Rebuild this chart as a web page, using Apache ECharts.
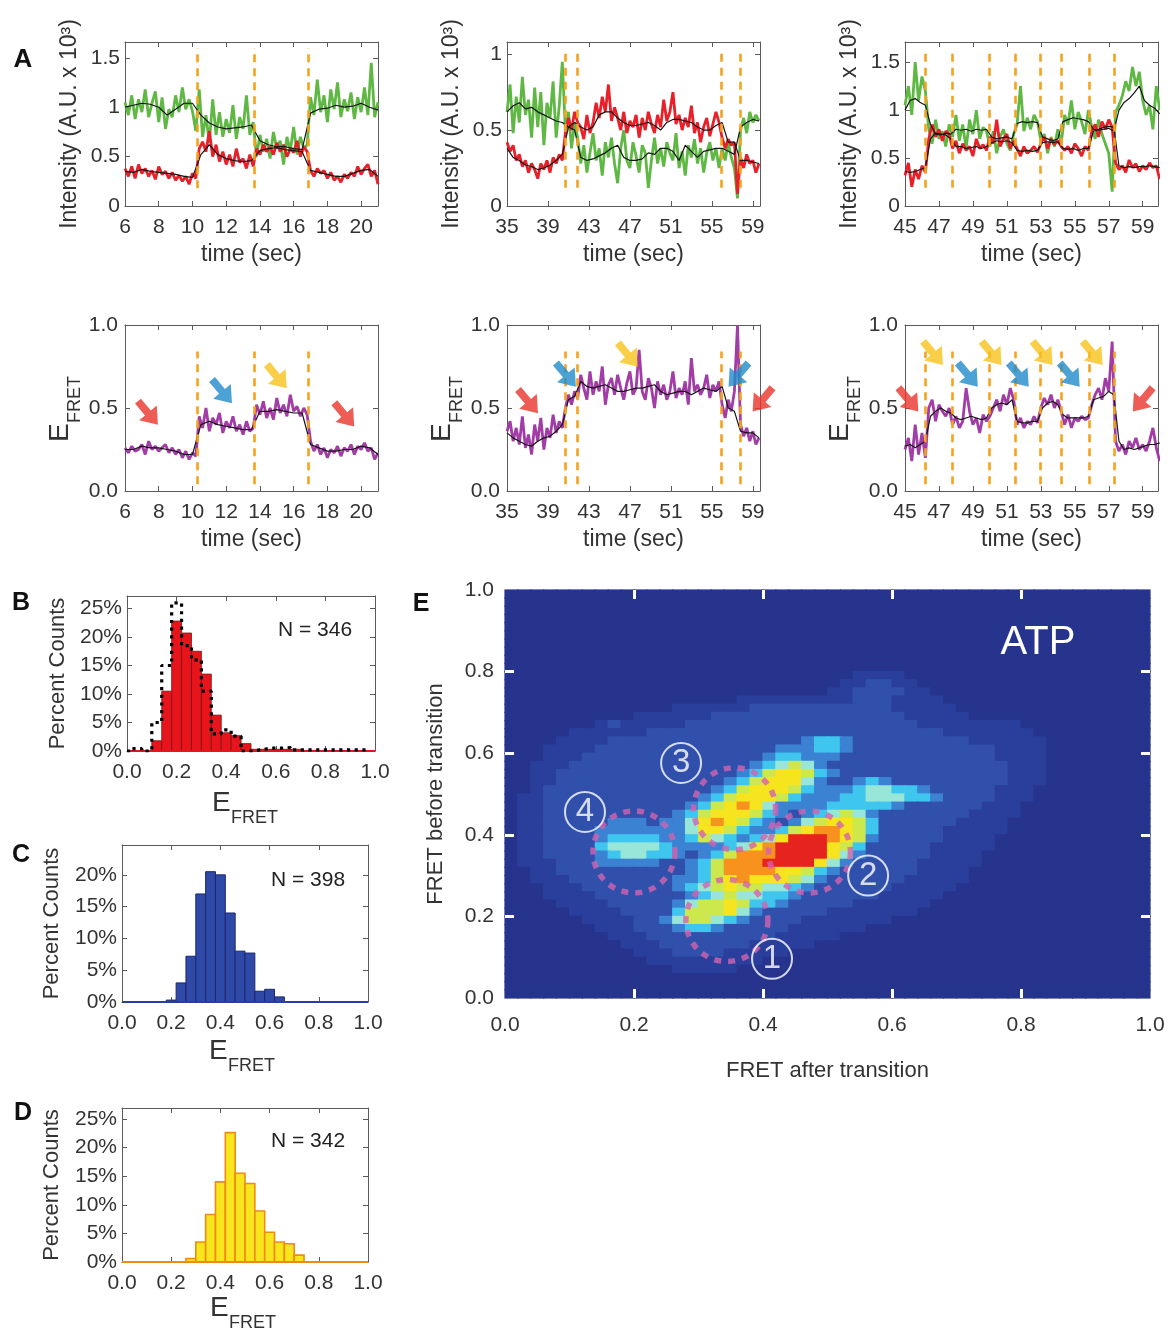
<!DOCTYPE html>
<html><head><meta charset="utf-8">
<script src="https://cdn.jsdelivr.net/npm/echarts@6/dist/echarts.min.js"></script>
<style>html,body{margin:0;padding:0;background:#fff}#c{width:1172px;height:1334px}</style>
</head><body><div id="c"></div>
<script>
const FONT = '"Liberation Sans", Arial, Helvetica, sans-serif';

// ================= DATA =================
// Panel A – trace 1 (intensities and FRET in units of 0.01)
const TL_T0 = 6, TL_DT = 0.2, TL_SDT = 0.5;
const TL_DONOR = [105,92,112,88,108,95,118,90,104,116,85,110,78,98,90,112,95,120,98,108,96,76,118,70,92,64,108,72,95,70,88,74,102,68,90,78,112,72,85,50,72,55,68,48,75,58,66,42,70,56,80,52,70,58,62,110,92,128,95,112,85,118,98,125,90,108,96,115,88,110,95,120,92,145,90,105];
const TL_ACCEPTOR = [38,30,40,28,42,33,38,30,36,27,40,32,35,28,34,26,31,25,30,22,33,28,58,65,55,76,50,62,45,55,42,52,40,58,44,48,38,52,40,58,52,62,55,60,52,64,55,62,50,58,54,66,50,60,55,36,30,38,33,36,28,34,26,30,24,32,28,34,30,40,32,38,42,30,36,22];
const TL_DONOR_SMOOTH = [100,102,104,103,100,92,98,104,104,92,84,80,78,79,80,82,66,62,60,60,58,57,94,98,99,102,100,101,104,100,97];
const TL_ACCEPTOR_SMOOTH = [35,34,37,35,34,33,32,30,29,52,62,52,48,46,45,46,56,58,59,57,56,55,36,34,32,30,30,33,36,37,30];
const TL_FRET = [26,23,27,24,25,28,22,30,25,27,24,26,28,23,26,22,25,20,24,19,23,21,45,38,50,36,44,40,47,35,42,38,45,36,40,34,42,36,38,52,46,54,44,50,43,56,47,52,45,58,48,51,45,50,46,30,24,28,22,26,20,25,23,27,21,26,24,28,22,27,25,29,24,26,19,23];
const TL_FRET_SMOOTH = [25,25,27,26,26,25,24,22,22,40,42,40,39,38,37,37,48,48,49,48,47,47,28,26,24,24,25,25,27,26,22];
const TL_TRANSITIONS = [10.3, 13.65, 16.85];
const TL_ARROWS = [[7.36,0.47,'r','dr'],[11.75,0.60,'b','dr'],[15.0,0.69,'y','dr'],[19.0,0.46,'r','dr']];

// Panel A – trace 2
const TM_T0 = 35, TM_DT = 0.3, TM_SDT = 0.6;
const TM_DONOR = [62,80,48,72,55,85,60,70,45,78,52,75,40,68,58,82,45,66,95,50,62,38,55,45,28,40,22,35,48,30,38,20,42,32,45,28,15,38,50,30,25,42,33,22,40,35,12,30,45,28,38,26,42,35,30,48,25,36,20,40,32,44,28,38,22,35,42,30,38,25,38,30,42,32,25,5,50,58,48,62,55,60,56];
const TM_ACCEPTOR = [42,36,40,30,34,26,30,22,28,24,18,28,24,30,22,32,28,34,30,48,58,50,62,55,52,44,60,48,55,68,58,72,62,80,56,65,58,50,62,48,56,52,60,45,58,50,62,54,48,60,52,70,56,62,75,54,60,50,58,52,66,48,55,42,52,58,46,54,62,55,45,38,44,40,42,8,32,25,34,28,30,22,28];
const TM_DONOR_SMOOTH = [62,66,68,64,65,62,60,58,56,55,52,50,32,30,31,33,35,38,40,32,30,30,31,35,34,38,38,36,30,40,36,32,36,37,38,38,36,34,52,55,57,56];
const TM_ACCEPTOR_SMOOTH = [38,32,30,27,26,24,25,27,30,34,52,55,52,50,52,60,62,62,58,55,53,53,54,55,53,50,55,57,57,56,55,52,50,50,53,55,42,42,30,30,29,28];
const TM_FRET = [36,42,30,38,28,45,26,34,22,40,30,44,25,38,32,46,35,42,38,50,58,52,60,56,70,62,55,72,58,66,60,75,52,64,68,58,70,62,55,65,72,58,62,85,60,55,68,62,50,66,58,64,55,60,72,56,62,58,66,52,80,60,64,58,62,70,56,64,60,66,52,44,55,48,60,100,40,33,38,30,36,28,32];
const TM_FRET_SMOOTH = [35,32,30,28,27,30,32,33,36,40,55,57,66,63,62,63,64,62,60,60,61,62,62,63,64,60,58,59,60,60,58,60,62,61,60,63,50,48,36,35,35,32];
const TM_TRANSITIONS = [40.66, 41.86, 55.94, 57.73];
const TM_ARROWS = [[37.05,0.54,'r','dr'],[40.75,0.70,'b','dr'],[46.8,0.82,'y','dr'],[57.6,0.70,'b','dl'],[59.95,0.55,'r','dl']];

// Panel A – trace 3
const TR_T0 = 45, TR_DT = 0.2, TR_SDT = 0.3;
const TR_DONOR = [105,125,95,150,110,135,120,80,65,90,70,78,62,85,72,95,68,85,60,90,75,100,70,82,78,62,78,55,72,80,65,58,75,85,125,78,92,80,95,88,68,75,55,72,62,80,65,95,85,110,80,98,88,75,100,82,70,90,75,65,55,15,98,105,115,130,120,145,125,140,110,95,105,80,125,100];
const TR_ACCEPTOR = [32,45,20,38,28,42,35,70,85,72,80,68,78,75,60,68,55,65,58,62,52,70,60,64,58,72,65,90,62,70,75,60,68,60,52,62,55,58,62,56,65,72,60,70,64,68,62,58,62,55,65,60,52,62,58,78,85,72,88,80,90,82,45,38,42,35,48,40,44,36,42,38,45,40,42,28];
const TR_DONOR_SMOOTH = [100,110,112,108,105,85,75,74,76,75,80,79,80,78,80,79,80,72,70,71,72,70,86,88,87,88,87,72,70,68,70,88,90,92,91,90,88,80,79,80,81,78,100,108,112,118,125,110,105,102,96];
const TR_ACCEPTOR_SMOOTH = [36,35,36,38,40,70,76,75,74,70,62,62,60,61,62,60,62,66,68,67,68,66,58,57,58,57,58,66,67,66,67,60,59,60,58,60,60,78,80,82,83,82,42,40,41,40,41,41,42,41,40];
const TR_FRET = [25,32,18,40,22,35,20,50,55,42,52,48,45,50,40,45,38,42,62,48,40,44,35,46,42,45,50,55,48,58,52,62,55,40,44,38,42,40,45,41,50,56,52,58,50,55,48,40,46,38,44,42,45,43,44,52,58,62,55,68,60,90,30,24,28,22,30,26,32,25,28,24,30,38,26,18];
const TR_FRET_SMOOTH = [27,28,26,28,30,45,48,50,48,47,44,43,44,45,44,43,44,50,52,53,52,55,42,41,41,42,42,50,53,54,52,46,44,44,44,44,45,55,56,57,60,58,30,25,26,25,26,27,28,28,29];
const TR_TRANSITIONS = [46.22, 47.78, 49.96, 51.51, 52.94, 54.22, 55.88, 57.32];
const TR_ARROWS = [[45.2,0.55,'r','dr'],[46.65,0.83,'y','dr'],[48.7,0.70,'b','dr'],[50.1,0.83,'y','dr'],[51.7,0.70,'b','dr'],[53.1,0.83,'y','dr'],[54.7,0.70,'b','dr'],[56.05,0.83,'y','dr'],[59.0,0.55,'r','dl']];

// Tick values
const TL_X_TICKS = [6,8,10,12,14,16,18,20];
const TM_X_TICKS = [35,39,43,47,51,55,59];
const TR_X_TICKS = [45,47,49,51,53,55,57,59];
const INT_TICKS_15 = [0,0.5,1,1.5];
const INT_TICKS_1 = [0,0.5,1];
const FRET_TICKS = [0,0.5,1];

// Histograms B, C, D (percent counts, bin centres, bin width 0.04)
const HIST_BIN_WIDTH = 0.04;
const HIST_BINS = [0.04,0.08,0.12,0.16,0.20,0.24,0.28,0.32,0.36,0.40,0.44,0.48,0.52,0.56,0.60,0.64,0.68,0.72,0.76,0.80,0.84,0.88,0.92,0.96];
const B_VALUES = [0,0,1.8,10.5,22.8,20.7,17.5,13.5,6.3,3.2,2.7,1.3,0.3,0.3,0.3,0.3,0.3,0,0,0,0,0,0,0];
const B_DOTTED = [0.4,0,5,15,26,18.5,16,10.5,3,3.7,2.6,0,0.2,0.5,0.5,0.6,0.2,0.2,0.2,0.2,0.2,0.2,0.2,0.2];
const C_VALUES = [0,0,0,0,0.3,3.0,7.2,17,20.5,20,14,8,7.7,1.7,2.0,0.8,0,0,0,0,0,0,0,0];
const D_VALUES = [0,0,0,0,0,0,0.6,3.5,8.3,14,22.6,15.5,13.7,8.9,5.2,3.5,3.2,1.2,0,0,0,0,0,0];
const B_N = 'N = 346', C_N = 'N = 398', D_N = 'N = 342';
const HIST_X_TICKS = [0,0.2,0.4,0.6,0.8,1.0];
const HIST_Y_TICKS_25 = [0,5,10,15,20,25];
const HIST_Y_TICKS_20 = [0,5,10,15,20];

// Panel E – transition density, 50 x 50 cells of 0.02 (rows: FRET-before 0.99 down to 0.01; columns: FRET-after 0.01 … 0.99)
const HEAT_CELL = 0.02;
const Z = '0000000000 0000000000 0000000000 0000000000 0000000000';
const HEAT_ROWS = [
 Z, Z, Z, Z, Z, Z, Z, Z, Z, Z,
 '0000000000 0000000000 0000000111 1000000000 0000000000',
 '0000000000 0000000000 0000001122 1100000000 0000000000',
 '0000000000 0000000000 0000011222 2110000000 0000000000',
 '0000000000 0000000011 1111111222 1111000000 0000000000',
 '0000000000 0001111112 2222222222 1111100000 0000000000',
 '0000000000 1111112222 2222222222 2111110000 0000000000',
 '0000000121 1111222222 2222222222 2211111111 0000000000',
 '0000011111 1222222222 2222222222 2222111111 1000000000',
 '0000111122 2222222222 2223443222 2222221111 1100000000',
 '0001111222 2222222222 2333443222 2222222211 1100000000',
 '0001112222 2222222222 3443332222 2222222211 1100000000',
 '0011122222 2222222223 4565322222 2222222221 1100000000',
 '0011222222 2222222234 6776432222 2222222221 1100000000',
 '0011222222 2222222346 7775322343 2222222221 1100000000',
 '0012222222 2222223467 7764333455 4432222211 1000000000',
 '0112222222 2222234677 7643334455 5443222211 1000000000',
 '0112222222 2222346787 5333344444 3222222111 0000000000',
 '0112222222 2223467776 4323456532 2222221111 0000000000',
 '0112222233 3233578764 3235677642 2222211110 0000000000',
 '0112222333 3333577643 3467887642 2222111110 0000000000',
 '0112222344 4433465434 5799987632 2222111100 0000000000',
 '0112222455 5543333457 8999976422 2221111100 0000000000',
 '0112222345 5443234688 8999975322 2221111000 0000000000',
 '0111222333 3322346888 9999753222 2211111000 0000000000',
 '0011222222 2222346888 8776432222 2211110000 0000000000',
 '0011122222 2223346787 7765322222 2111110000 0000000000',
 '0001112222 2223456766 5543222222 1111100000 0000000000',
 '0001111222 2222345655 4432222221 1111000000 0000000000',
 '0000111122 2223566764 4322222111 1110000000 0000000000',
 '0000011112 2224666753 2222211111 1100000000 0000000000',
 '0000001111 2235665432 2221111111 0000000000 0000000000',
 '0000000111 2223443222 2211111100 0000000000 0000000000',
 '0000000011 1222222222 2111110000 0000000000 0000000000',
 '0000000001 1122222221 1111000000 0000000000 0000000000',
 '0000000000 1112222111 1100000000 0000000000 0000000000',
 '0000000000 0111111111 0000000000 0000000000 0000000000',
 '0000000000 0001111100 0000000000 0000000000 0000000000',
 Z, Z, Z
];
const E_TICKS = [0.2,0.4,0.6,0.8];
const E_LABELS = [0,0.2,0.4,0.6,0.8,1.0];
const E_CIRCLES = [[0.344,0.19],[0.472,0.358],[0.356,0.464],[0.20,0.358]];
const E_NUMBERS = [[0.414,0.096,'1'],[0.563,0.30,'2'],[0.273,0.576,'3'],[0.124,0.456,'4']];

// ================= STYLE =================
const GREEN = '#5fb843', RED = '#e8202a', PURPLE = '#a23ca6', BLACK = '#151515', ORANGE = '#f6a21c';
const ARROW_COLORS = {r:'#e8342c', b:'#1f8bcb', y:'#f8c21a'};
const ARROW_ROT = {dr:-50, dl:-130};
const ARROW_PATH = 'path://M0,8 L15,8 L15,0 L30,12 L15,24 L15,16 L0,16 Z';
const HEAT_COLORS = ['#26348e','#2a3f9b','#3050ab','#3b82d2','#3ec6ef','#98e6d8','#cde84c','#f6e41e','#f6921d','#e6241f'];

// ================= BUILD =================
const grid = [], xAxis = [], yAxis = [], series = [], graphic = [];

function addPanel(p) {
  const gi = grid.length;
  grid.push({left:p.rect[0], top:p.rect[1], width:p.rect[2], height:p.rect[3], containLabel:false, outerBoundsMode:'none'});
  const frame = {show: p.frame !== false, onZero:false, lineStyle:{color:'#5a5a5a', width:1}};
  const tick = v => ({show:true, inside:true, length:p.tickLen || 5, customValues:v, lineStyle:{color:p.tickColor || '#5a5a5a', width:p.tickWidth || 1}});
  const lab = (v, fmt, margin) => ({show:true, customValues:v, formatter:fmt, color:'#333', fontSize:p.fs || 21, fontFamily:FONT, margin:margin, showMinLabel:true, showMaxLabel:true, hideOverlap:false});
  const base = {type:'value', gridIndex:gi, splitLine:{show:false}, z:p.axisZ || 0, silent:true};
  const nameStyle = {fontSize:p.nameFs || 23, color:'#333', fontFamily:FONT};
  const xi = xAxis.length, yi = yAxis.length;
  xAxis.push(Object.assign({}, base, {position:'bottom', min:p.x[0], max:p.x[1], axisLine:frame, axisTick:tick(p.xTicks),
    axisLabel:lab(p.xLabels || p.xTicks, p.xFmt, p.xMargin), name:p.xName || '', nameLocation:'middle', nameGap:p.xNameGap || 30, nameTextStyle:nameStyle}));
  xAxis.push(Object.assign({}, base, {position:'top', min:p.x[0], max:p.x[1], axisLine:frame, axisTick:tick(p.xTicks), axisLabel:{show:false}}));
  yAxis.push(Object.assign({}, base, {position:'left', min:p.y[0], max:p.y[1], axisLine:frame, axisTick:tick(p.yTicks),
    axisLabel:lab(p.yLabels || p.yTicks, p.yFmt, p.yMargin), name:p.yName || '', nameLocation:'middle', nameRotate:90, nameGap:p.yNameGap || 30, nameTextStyle:nameStyle}));
  yAxis.push(Object.assign({}, base, {position:'right', min:p.y[0], max:p.y[1], axisLine:frame, axisTick:tick(p.yTicks), axisLabel:{show:false}}));
  return {xi, yi};
}

const toPts = (t0, dt, vals) => vals.map((v, i) => [+(t0 + i * dt).toFixed(3), v / 100]);
function trace(ax, pts, color, width, z) {
  series.push({type:'line', xAxisIndex:ax.xi, yAxisIndex:ax.yi, data:pts, symbol:'none', showSymbol:false,
    lineStyle:{color, width}, z, silent:true, animation:false});
}
function transitions(ax, xs, y0, y1) {
  series.push({type:'line', xAxisIndex:ax.xi, yAxisIndex:ax.yi, data:[], z:6, silent:true,
    markLine:{silent:true, animation:false, symbol:['none','none'], label:{show:false},
      lineStyle:{color:ORANGE, width:2.6, type:[8,6]},
      data: xs.map(x => [{coord:[x, y0]}, {coord:[x, y1]}])}});
}
function arrows(ax, list) {
  series.push({type:'scatter', xAxisIndex:ax.xi, yAxisIndex:ax.yi, clip:false, silent:true, z:8,
    symbol:ARROW_PATH, symbolSize:[31, 23],
    data: list.map(a => ({value:[a[0], a[1]], symbolRotate:ARROW_ROT[a[3]], itemStyle:{color:ARROW_COLORS[a[2]]}}))});
}

const fmt1 = v => v.toFixed(1);
const pct = v => Math.round(v) + '%';

// ---- Panel A intensity rows ----
const topCommon = {fs:21, nameFs:23, xMargin:11, yMargin:5, xName:'time (sec)', xNameGap:37, yName:'Intensity (A.U. x 10³)', yNameGap:44};
const aTL = addPanel(Object.assign({rect:[125,42,253,164], x:[6,21], y:[0,1.66], xTicks:TL_X_TICKS, yTicks:INT_TICKS_15}, topCommon));
const aTM = addPanel(Object.assign({rect:[507,42,253,164], x:[35,59.7], y:[0,1.08], xTicks:TM_X_TICKS, yTicks:INT_TICKS_1}, topCommon));
const aTR = addPanel(Object.assign({rect:[905,42,253,164], x:[45,59.9], y:[0,1.71], xTicks:TR_X_TICKS, yTicks:INT_TICKS_15}, topCommon));

[[aTL, TL_T0, TL_DT, TL_SDT, TL_DONOR, TL_ACCEPTOR, TL_DONOR_SMOOTH, TL_ACCEPTOR_SMOOTH, TL_TRANSITIONS, 0.18, 1.6],
 [aTM, TM_T0, TM_DT, TM_SDT, TM_DONOR, TM_ACCEPTOR, TM_DONOR_SMOOTH, TM_ACCEPTOR_SMOOTH, TM_TRANSITIONS, 0.12, 1.03],
 [aTR, TR_T0, TR_DT, TR_SDT, TR_DONOR, TR_ACCEPTOR, TR_DONOR_SMOOTH, TR_ACCEPTOR_SMOOTH, TR_TRANSITIONS, 0.19, 1.65]
].forEach(r => {
  const [ax, t0, dt, sdt, d, a, ds, as, tr, y0, y1] = r;
  trace(ax, toPts(t0, dt, d), GREEN, 2.8, 2);
  trace(ax, toPts(t0, dt, a), RED, 2.8, 3);
  trace(ax, toPts(t0, sdt, ds), BLACK, 1.2, 4);
  trace(ax, toPts(t0, sdt, as), BLACK, 1.2, 4);
  transitions(ax, tr, y0, y1);
});

// ---- Panel A FRET rows ----
const botCommon = {fs:21, nameFs:23, xMargin:11, yMargin:7, xName:'time (sec)', xNameGap:37, yFmt:fmt1};
const fL = addPanel(Object.assign({rect:[125,325,253,166], x:[6,21], y:[0,1], xTicks:TL_X_TICKS, yTicks:FRET_TICKS}, botCommon));
const fM = addPanel(Object.assign({rect:[507,325,253,166], x:[35,59.7], y:[0,1], xTicks:TM_X_TICKS, yTicks:FRET_TICKS}, botCommon));
const fR = addPanel(Object.assign({rect:[905,325,253,166], x:[45,59.9], y:[0,1], xTicks:TR_X_TICKS, yTicks:FRET_TICKS}, botCommon));
[[fL, TL_T0, TL_DT, TL_SDT, TL_FRET, TL_FRET_SMOOTH, TL_TRANSITIONS, TL_ARROWS],
 [fM, TM_T0, TM_DT, TM_SDT, TM_FRET, TM_FRET_SMOOTH, TM_TRANSITIONS, TM_ARROWS],
 [fR, TR_T0, TR_DT, TR_SDT, TR_FRET, TR_FRET_SMOOTH, TR_TRANSITIONS, TR_ARROWS]
].forEach(r => {
  const [ax, t0, dt, sdt, f, fs, tr, ar] = r;
  trace(ax, toPts(t0, dt, f), PURPLE, 2.8, 2);
  trace(ax, toPts(t0, sdt, fs), BLACK, 1.2, 4);
  transitions(ax, tr, 0.04, 0.84);
  arrows(ax, ar);
});

// ---- Histograms ----
function histogram(ax, values, fill, stroke, lw, baseColor) {
  const hw = HIST_BIN_WIDTH / 2;
  series.push({type:'custom', xAxisIndex:ax.xi, yAxisIndex:ax.yi, silent:true, animation:false, clip:false, z:3,
    data: HIST_BINS.map((c, i) => [c - hw, c + hw, values[i]]),
    encode:{x:[0,1], y:2},
    renderItem: (params, api) => {
      const v = api.value(2);
      if (!v) return null;
      const p0 = api.coord([api.value(0), v]);
      const p1 = api.coord([api.value(1), 0]);
      return {type:'rect', shape:{x:p0[0], y:p0[1], width:p1[0]-p0[0], height:p1[1]-p0[1]}, style:{fill, stroke, lineWidth:lw}};
    }});
  series.push({type:'line', xAxisIndex:ax.xi, yAxisIndex:ax.yi, data:[[0,0],[1,0]], symbol:'none', silent:true, z:4,
    lineStyle:{color:baseColor, width:2.2}});
}
const histCommon = {fs:21, nameFs:22, xMargin:11, yMargin:5, xTicks:HIST_X_TICKS, xFmt:fmt1, yFmt:pct, yName:'Percent Counts'};
const hB = addPanel(Object.assign({rect:[127,596,248,155], x:[0,1], y:[0,27.2], yTicks:HIST_Y_TICKS_25, yNameGap:58}, histCommon));
const hC = addPanel(Object.assign({rect:[122,845,246,157], x:[0,1], y:[0,24.7], yTicks:HIST_Y_TICKS_20, yNameGap:59}, histCommon));
const hD = addPanel(Object.assign({rect:[122,1108,246,154], x:[0,1], y:[0,26.9], yTicks:HIST_Y_TICKS_25, yNameGap:59}, histCommon));
histogram(hB, B_VALUES, '#e8141b', '#7d1212', 0.8, '#e8141b');
histogram(hC, C_VALUES, '#2f49a6', '#1b2670', 1, '#2a3f9c');
histogram(hD, D_VALUES, '#f7e61e', '#f08a12', 1.6, '#f08a12');
// dotted outline in B
(function(){
  const hw = HIST_BIN_WIDTH / 2;
  const pts = [[0, 0]].concat(HIST_BINS.map((c, i) => [c - hw, B_DOTTED[i]]));
  pts.push([HIST_BINS[HIST_BINS.length - 1] + hw, B_DOTTED[B_DOTTED.length - 1]]);
  series.push({type:'line', xAxisIndex:hB.xi, yAxisIndex:hB.yi, data:pts, step:'end', symbol:'none', silent:true, z:5,
    lineStyle:{color:'#000', width:3.2, type:[3.2,4.5]}});
})();

// ---- Panel E heatmap (cells drawn through the category axes) ----
const eRect = [505,590,645,408];
const rows = HEAT_ROWS.map(r => r.replace(/ /g, ''));
const nCols = rows[0].length, nRows = rows.length;
const HEAT_X = Array.from({length:nCols}, (_, i) => (HEAT_CELL / 2 + i * HEAT_CELL).toFixed(2));
const HEAT_Y = Array.from({length:nRows}, (_, i) => (HEAT_CELL / 2 + i * HEAT_CELL).toFixed(2));
const hg = grid.length;
grid.push({left:eRect[0], top:eRect[1], width:eRect[2], height:eRect[3], containLabel:false, outerBoundsMode:'none'});
const hxI = xAxis.length; xAxis.push({type:'category', gridIndex:hg, data:HEAT_X, show:false, boundaryGap:true});
const hyI = yAxis.length; yAxis.push({type:'category', gridIndex:hg, data:HEAT_Y, show:false, boundaryGap:true});
const heatData = [];
rows.forEach((row, k) => {
  const yi = nRows - 1 - k;
  for (let c = 0; c < row.length; c++) heatData.push([c, yi, +row[c]]);
});
const heatIndex = series.length;
series.push({type:'custom', xAxisIndex:hxI, yAxisIndex:hyI, data:heatData, silent:true, z:1, animation:false,
  encode:{x:0, y:1},
  renderItem: (params, api) => {
    const c = api.coord([api.value(0), api.value(1)]);
    const s = api.size([1, 1]);
    return {type:'rect', shape:{x:c[0] - s[0] / 2 - 0.6, y:c[1] - s[1] / 2 - 0.6, width:s[0] + 1.2, height:s[1] + 1.2},
      style:{fill:api.visual('color')}};
  }});

const eAx = addPanel({rect:eRect, x:[0,1], y:[0,1], frame:false, tickColor:'#ffffff', tickWidth:3, tickLen:9, axisZ:5,
  xTicks:E_TICKS, xLabels:E_LABELS, yTicks:E_TICKS, yLabels:E_LABELS, xFmt:fmt1, yFmt:fmt1, fs:21, nameFs:22,
  xMargin:17, yMargin:11, xName:'FRET after transition', xNameGap:62, yName:'FRET before transition', yNameGap:58});
series.push({type:'scatter', xAxisIndex:eAx.xi, yAxisIndex:eAx.yi, data:E_CIRCLES, symbol:'circle', symbolSize:82, silent:true, z:6,
  itemStyle:{color:'rgba(0,0,0,0)', borderColor:'#d263b0', borderWidth:5.5, borderType:[7,7]}});
series.push({type:'scatter', xAxisIndex:eAx.xi, yAxisIndex:eAx.yi, data:E_NUMBERS, symbol:'circle', symbolSize:40, silent:true, z:7,
  itemStyle:{color:'rgba(0,0,0,0)', borderColor:'#ffffff', borderWidth:2},
  label:{show:true, position:'inside', formatter:p => p.data[2], color:'#fff', fontSize:33, fontFamily:FONT}});

// ---- Text annotations ----
function txt(text, x, y, font, fill, align) {
  return {type:'text', x, y, silent:true, z:100, style:{text, font, fill:fill || '#222', textAlign:align || 'center', textVerticalAlign:'middle', verticalAlign:'middle'}};
}
function efret(x, y, rotated) {
  return {type:'group', x, y, rotation: rotated ? Math.PI / 2 : 0, silent:true, z:100, children:[
    {type:'text', x:-33, y:0, style:{text:'E', font:'28px ' + FONT, fill:'#333', textAlign:'left', textVerticalAlign:'middle', verticalAlign:'middle'}},
    {type:'text', x:-14, y:15, style:{text:'FRET', font:'18px ' + FONT, fill:'#333', textAlign:'left', textVerticalAlign:'middle', verticalAlign:'middle'}}
  ]};
}
graphic.push(txt('A', 23, 60, 'bold 26px ' + FONT, '#111'));
graphic.push(txt('B', 21, 603, 'bold 25px ' + FONT, '#111'));
graphic.push(txt('C', 21, 855, 'bold 25px ' + FONT, '#111'));
graphic.push(txt('D', 23, 1113, 'bold 25px ' + FONT, '#111'));
graphic.push(txt('E', 421, 604, 'bold 25px ' + FONT, '#111'));
graphic.push(txt(B_N, 315, 630, '21px ' + FONT, '#222'));
graphic.push(txt(C_N, 308, 880, '21px ' + FONT, '#222'));
graphic.push(txt(D_N, 308, 1141, '21px ' + FONT, '#222'));
graphic.push(txt('ATP', 1038, 643, '40px ' + FONT, '#ffffff'));
graphic.push(efret(60, 409, true));
graphic.push(efret(442, 409, true));
graphic.push(efret(840, 409, true));
graphic.push(efret(245, 803, false));
graphic.push(efret(242, 1051, false));
graphic.push(efret(243, 1308, false));

const chart = echarts.init(document.getElementById('c'), null, {renderer:'canvas'});
chart.setOption({
  animation:false,
  backgroundColor:'#ffffff',
  textStyle:{fontFamily:FONT},
  grid, xAxis, yAxis, series, graphic,
  visualMap:[{type:'continuous', show:false, min:0, max:9, dimension:2, seriesIndex:heatIndex, inRange:{color:HEAT_COLORS}}]
});
</script></body></html>
